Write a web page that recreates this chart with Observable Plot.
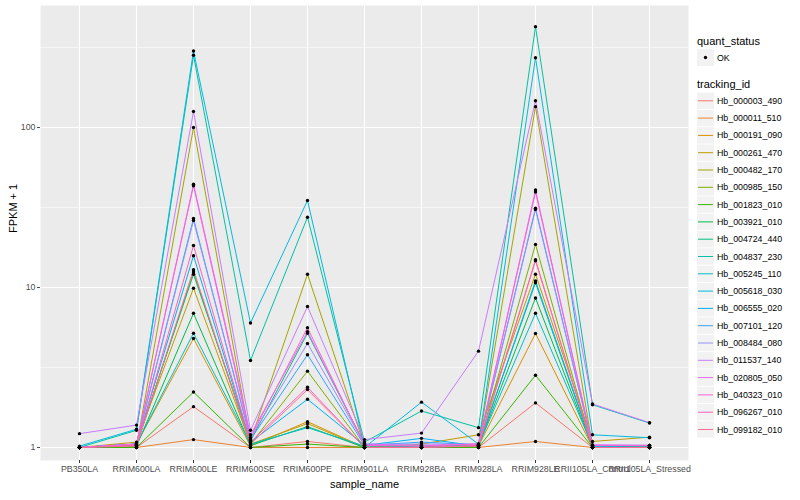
<!DOCTYPE html>
<html><head><meta charset="utf-8">
<script src="https://cdn.jsdelivr.net/npm/d3@7"></script>
<script src="https://cdn.jsdelivr.net/npm/@observablehq/plot@0.6"></script>
<style>
body{margin:0;background:#fff;font-family:"Liberation Sans",Arial,sans-serif;}
#wrap{position:relative;width:800px;height:500px;}
#plot{position:absolute;left:0;top:0;}
#legend{position:absolute;left:690px;top:0;}
</style></head><body><div id="wrap"><div id="plot"></div><div id="legend"></div></div>
<script>
const samples = ["PB350LA","RRIM600LA","RRIM600LE","RRIM600SE","RRIM600PE","RRIM901LA","RRIM928BA","RRIM928LA","RRIM928LE","RRII105LA_Control","RRII105LA_Stressed"];
const trackingIds = ["Hb_000003_490","Hb_000011_510","Hb_000191_090","Hb_000261_470","Hb_000482_170","Hb_000985_150","Hb_001823_010","Hb_003921_010","Hb_004724_440","Hb_004837_230","Hb_005245_110","Hb_005618_030","Hb_006555_020","Hb_007101_120","Hb_008484_080","Hb_011537_140","Hb_020805_050","Hb_040323_010","Hb_096267_010","Hb_099182_010"];
const colors = ["#F8766D","#EA8331","#D89000","#C09B00","#A3A500","#7CAE00","#39B600","#00BB4E","#00BF7D","#00C1A3","#00BFC4","#00BAE0","#00B0F6","#35A2FF","#9590FF","#C77CFF","#E76BF3","#FA62DB","#FF62BC","#FF6C91"];
// FPKM + 1, one row per tracking_id, columns follow `samples`
const fpkm = [
  [1.0, 1.0, 1.80, 1.0, 1.09, 1.0, 1.0, 1.0, 1.90, 1.0, 1.0],
  [1.0, 1.0, 1.12, 1.0, 1.0, 1.0, 1.0, 1.0, 1.09, 1.0, 1.0],
  [1.0, 1.05, 4.8, 1.02, 1.45, 1.0, 1.0, 1.02, 5.16, 1.0, 1.0],
  [1.0, 1.08, 9.9, 1.05, 1.41, 1.0, 1.05, 1.2, 12.1, 1.09, 1.16],
  [1.0, 1.02, 100, 1.1, 12.1, 1.02, 1.02, 1.05, 135, 1.02, 1.01],
  [1.0, 1.03, 12.5, 1.05, 3.0, 1.0, 1.0, 1.03, 18.6, 1.0, 1.0],
  [1.0, 1.0, 2.22, 1.0, 1.05, 1.0, 1.0, 1.0, 2.83, 1.0, 1.0],
  [1.0, 1.02, 6.9, 1.03, 1.35, 1.0, 1.0, 1.02, 8.6, 1.0, 1.0],
  [1.0, 1.05, 12.1, 1.1, 5.18, 1.05, 1.0, 1.03, 10.7, 1.0, 1.0],
  [1.0, 1.28, 283, 3.5, 27.5, 1.08, 1.69, 1.33, 427, 1.85, 1.42],
  [1.0, 1.05, 5.18, 1.05, 1.33, 1.02, 1.02, 1.03, 6.9, 1.02, 1.0],
  [1.02, 1.3, 301, 6.0, 35, 1.0, 1.92, 1.05, 273, 1.2, 1.15],
  [1.0, 1.05, 15.8, 1.08, 2.0, 1.03, 1.14, 1.02, 11.0, 1.02, 1.02],
  [1.0, 1.05, 27, 1.12, 3.8, 1.03, 1.08, 1.04, 31.3, 1.03, 1.03],
  [1.0, 1.05, 26.2, 1.15, 4.47, 1.05, 1.05, 1.05, 30.7, 1.03, 1.03],
  [1.22, 1.38, 126, 1.28, 7.6, 1.12, 1.23, 4.0, 147, 1.87, 1.43],
  [1.0, 1.05, 44.2, 1.2, 5.3, 1.05, 1.03, 1.05, 40.7, 1.04, 1.03],
  [1.0, 1.05, 43.2, 1.15, 5.6, 1.03, 1.02, 1.05, 39.5, 1.03, 1.03],
  [1.0, 1.03, 18.3, 1.08, 2.38, 1.0, 1.0, 1.03, 14.9, 1.0, 1.0],
  [1.0, 1.02, 12.9, 1.05, 2.3, 1.0, 1.0, 1.02, 14.7, 1.0, 1.0]
];
const yMajor = [1, 10, 100];
const yMinor = [Math.sqrt(10), 10*Math.sqrt(10), 100*Math.sqrt(10)];

const rows = trackingIds.flatMap((id, i) => samples.map((s, j) => ({id, sample: s, value: fpkm[i][j], status: "OK"})));

const chart = Plot.plot({
  width: 800, height: 500,
  marginLeft: 40, marginRight: 112, marginTop: 5, marginBottom: 40,
  style: {fontFamily: '"Liberation Sans", Arial, sans-serif', background: "white"},
  x: {type: "point", domain: samples, padding: 0.6, label: null},
  y: {type: "log", domain: [0.829, 579], label: null},
  color: {domain: trackingIds, range: colors},
  marks: [
    Plot.frame({fill: "#EBEBEB", stroke: null}),
    Plot.ruleY(yMinor, {stroke: "white", strokeWidth: 0.55}),
    Plot.ruleY(yMajor, {stroke: "white", strokeWidth: 1.1}),
    Plot.ruleX(samples, {stroke: "white", strokeWidth: 1.1}),
    Plot.line(rows, {x: "sample", y: "value", z: "id", stroke: "id", strokeWidth: 1}),
    Plot.dot(rows, {x: "sample", y: "value", r: 1.7, fill: "black", stroke: null}),
    Plot.axisX({ticks: samples, tickSize: 3, tickPadding: 2, fontSize: 8.8, color: "#4D4D4D", stroke: "#333333", label: null}),
    Plot.axisY({ticks: yMajor, tickFormat: d3.format("d"), tickSize: 3, tickPadding: 2, fontSize: 8.8, color: "#4D4D4D", label: null}),
    Plot.text(["FPKM + 1"], {frameAnchor: "left", dx: -27, rotate: -90, fontSize: 11, fill: "black"}),
    Plot.text(["sample_name"], {frameAnchor: "bottom", dy: 27, fontSize: 11, fill: "black"})
  ]
});
document.getElementById("plot").appendChild(chart);

// legend
const lg = d3.select("#legend").append("svg").attr("width", 110).attr("height", 500)
  .style("font-family", '"Liberation Sans", Arial, sans-serif');
lg.append("text").attr("x", 7).attr("y", 45).attr("font-size", 11).text("quant_status");
lg.append("rect").attr("x", 7).attr("y", 49).attr("width", 17).attr("height", 17).attr("fill", "#F2F2F2");
lg.append("circle").attr("cx", 15.5).attr("cy", 57.5).attr("r", 1.7).attr("fill", "black");
lg.append("text").attr("x", 27).attr("y", 60.5).attr("font-size", 8.8).attr("fill", "black").text("OK");
lg.append("text").attr("x", 7).attr("y", 88).attr("font-size", 11).text("tracking_id");
trackingIds.forEach((id, i) => {
  const cy = 100.8 + i * 17.3;
  lg.append("rect").attr("x", 7).attr("y", cy - 8.2).attr("width", 17).attr("height", 16.4).attr("fill", "#F2F2F2");
  lg.append("line").attr("x1", 8).attr("x2", 23).attr("y1", cy).attr("y2", cy).attr("stroke", colors[i]).attr("stroke-width", 1);
  lg.append("text").attr("x", 27).attr("y", cy + 3).attr("font-size", 8.8).attr("fill", "black").text(id);
});
</script></body></html>
